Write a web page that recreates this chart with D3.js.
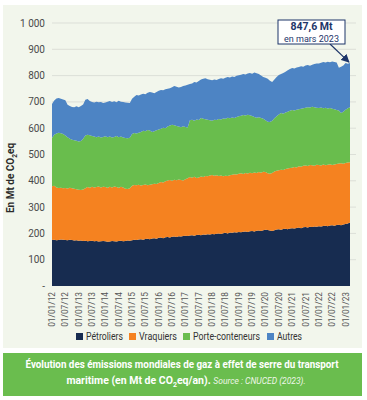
<!DOCTYPE html>
<html><head><meta charset="utf-8">
<script src="https://cdn.jsdelivr.net/npm/d3@7"></script>
<style>
html,body{margin:0;padding:0;background:#fff;}
svg{display:block;font-family:Roboto,"Noto Sans",sans-serif;}
</style></head>
<body>
<svg id="c" width="367" height="400"></svg>
<script>
// Monthly data, Jan 2012 -> Mar 2023 (Mt CO2eq/an)
const petroliers = [
175,176,174,175,177,176,175,174,176,175,173,174,
172,173,171,172,170,171,172,170,171,169,170,171,
170,168,169,171,170,169,171,172,170,171,173,172,
174,176,175,177,178,176,179,180,178,181,182,180,
183,184,182,185,186,184,187,188,186,189,188,190,
191,190,192,193,191,194,195,193,196,195,197,196,
198,197,199,200,198,201,202,200,203,202,204,203,
205,204,206,207,205,208,209,207,210,211,209,212,
214,213,211,209,212,215,216,214,217,218,216,219,
220,219,221,222,220,223,224,222,225,224,226,225,
227,226,228,229,227,230,231,229,232,233,231,234,
236,238,241];
const vraquiers = [
204,205,201,198,197,196,198,197,198,197,197,194,
194,192,196,200,206,203,205,205,205,209,205,206,
206,206,208,204,208,207,203,205,205,199,196,200,
207,208,208,208,204,208,207,203,207,206,207,208,
209,211,212,213,215,219,213,216,216,216,215,211,
215,220,222,219,224,217,218,223,218,223,220,224,
224,222,222,218,222,216,217,218,218,221,221,221,
222,225,220,223,223,223,220,225,220,222,222,222,
219,216,216,221,223,223,224,228,224,227,231,230,
230,233,230,233,233,234,234,234,235,235,231,236,
233,232,234,230,234,233,229,233,232,233,236,231,
232,232,230];
const porteConteneurs = [
184,194,205,210,207,206,199,195,186,184,184,184,
183,186,193,200,199,199,193,193,190,190,190,190,
193,192,191,190,189,194,192,191,190,193,193,192,
197,198,197,198,204,206,202,210,206,199,199,204,
203,203,208,202,205,207,213,207,206,201,201,206,
199,193,216,220,213,222,218,223,222,216,215,210,
206,213,210,217,213,220,217,222,217,218,214,219,
218,218,224,218,223,218,217,211,210,209,208,202,
197,196,197,198,203,207,212,216,214,215,216,217,
219,215,219,217,221,219,220,224,219,223,223,217,
217,221,214,219,214,214,214,210,205,201,191,198,
202,206,209];
const autres = [
129,130,133,132,131,131,134,123,124,125,126,131,
131,133,130,136,136,130,130,130,135,131,135,129,
129,135,135,135,135,129,138,133,135,135,135,132,
134,138,146,141,142,141,141,142,147,150,145,146,
147,147,142,148,144,142,143,149,150,149,153,153,
157,162,138,138,148,141,148,146,152,156,154,154,
154,153,152,152,157,151,156,155,155,156,156,156,
156,156,156,156,157,161,161,169,169,164,161,159,
162,163,156,148,147,150,150,148,155,155,157,159,
160,160,161,161,162,158,160,160,158,159,164,168,
169,170,176,172,178,174,180,180,181,163,176,175,
178,169,167.6];
const seriesNames = ["Pétroliers","Vraquiers","Porte-conteneurs","Autres"];
const seriesColors = ["#172c50","#f58220","#69bd4d","#4d84c4"];
const yTicks = [0,100,200,300,400,500,600,700,800,900,1000];
const yTickLabels = ["-","100","200","300","400","500","600","700","800","900","1 000"];
const xTickIndex = [0,6,12,18,24,30,36,42,48,54,60,66,72,78,84,90,96,102,108,114,120,126,132];
const xTickLabels = ["01/01/12","01/07/12","01/01/13","01/07/13","01/01/14","01/07/14","01/01/15","01/07/15","01/01/16","01/07/16","01/01/17","01/07/17","01/01/18","01/07/18","01/01/19","01/07/19","01/01/20","01/07/20","01/01/21","01/07/21","01/01/22","01/07/22","01/01/23"];

const svg = d3.select("#c");
// panel backgrounds
svg.append("rect").attr("x",3).attr("y",5).attr("width",359).attr("height",343).attr("fill","#f2f6ec");
svg.append("rect").attr("x",3).attr("y",353).attr("width",359).attr("height",43).attr("fill","#6abd4e");

const n = petroliers.length;
const rows = d3.range(n).map(i => ({i, "Pétroliers":petroliers[i], "Vraquiers":vraquiers[i], "Porte-conteneurs":porteConteneurs[i], "Autres":autres[i]}));
const x = d3.scaleLinear().domain([0, n-1]).range([52, 350]);
const y = d3.scaleLinear().domain([0, 1000]).range([286, 23]);

// gridlines
svg.append("g").selectAll("line").data(yTicks.slice(1)).join("line")
  .attr("x1",52).attr("x2",356).attr("y1",d=>y(d)).attr("y2",d=>y(d))
  .attr("stroke","#dcdfd8").attr("stroke-width",1);

// y labels
svg.append("g").selectAll("text").data(yTicks).join("text")
  .attr("x",45).attr("y",d=>y(d)).attr("dy","0.35em").attr("text-anchor","end")
  .attr("font-size",10).attr("fill","#4a4a4a").text((d,k)=>yTickLabels[k]);

// stacked area
const stack = d3.stack().keys(seriesNames);
const layers = stack(rows);
const area = d3.area().x(d=>x(d.data.i)).y0(d=>y(d[0])).y1(d=>y(d[1])).curve(d3.curveLinear);
svg.append("g").selectAll("path").data(layers).join("path")
  .attr("d",area).attr("fill",(d,k)=>seriesColors[k]);

// x labels
svg.append("g").selectAll("text").data(xTickIndex).join("text")
  .attr("transform",d=>`translate(${x(d)+3},292) rotate(-90)`)
  .attr("text-anchor","end").attr("font-size",8.3).attr("fill","#555")
  .text((d,k)=>xTickLabels[k]);

// y title
const yt = svg.append("text").attr("transform","translate(14,178) rotate(-90)")
  .attr("text-anchor","middle").attr("font-size",10).attr("font-weight","bold").attr("fill","#2b2b2b");
yt.append("tspan").text("En Mt de CO");
yt.append("tspan").attr("font-size",6.5).attr("dy",2.5).text("2");
yt.append("tspan").attr("dy",-2.5).text("eq");

// legend
const legX = [76,129,183,267];
const legW = [37,38,67,25];
const leg = svg.append("g").selectAll("g").data(seriesNames).join("g")
  .attr("transform",(d,k)=>`translate(${legX[k]},333)`);
leg.append("rect").attr("width",7).attr("height",7).attr("fill",(d,k)=>seriesColors[k]);
leg.append("text").attr("x",10).attr("y",3.5).attr("dy","0.35em").attr("font-size",10).attr("fill","#333")
  .attr("textLength",(d,k)=>legW[k]).attr("lengthAdjust","spacingAndGlyphs").text(d=>d);

// annotation
const last = n-1;
const total = petroliers[last]+vraquiers[last]+porteConteneurs[last]+autres[last];
svg.append("defs").append("marker").attr("id","ah").attr("viewBox","0 0 10 10").attr("refX",9).attr("refY",5)
  .attr("markerWidth",7).attr("markerHeight",7).attr("orient","auto")
  .append("path").attr("d","M0,0L10,5L0,10z").attr("fill","#1d3569");
svg.append("line").attr("x1",330).attr("y1",44).attr("x2",x(last)-1).attr("y2",y(total)-1)
  .attr("stroke","#1d3569").attr("stroke-width",1.2).attr("marker-end","url(#ah)");
svg.append("rect").attr("x",278).attr("y",20).attr("width",67).attr("height",24)
  .attr("fill","#fff").attr("stroke","#1d3569").attr("stroke-width",1);
svg.append("text").attr("x",311.5).attr("y",30).attr("text-anchor","middle").attr("font-size",10.5)
  .attr("font-weight","bold").attr("fill","#1d3569").text(d3.format(".1f")(total).replace(".",",")+" Mt");
svg.append("text").attr("x",311.5).attr("y",41.5).attr("text-anchor","middle").attr("font-size",9)
  .attr("fill","#1d3569").text("en mars 2023");

// caption
svg.append("text").attr("x",182).attr("y",368).attr("text-anchor","middle").attr("font-size",10.5)
  .attr("font-weight","bold").attr("fill","#fff").attr("textLength",313).attr("lengthAdjust","spacingAndGlyphs")
  .text("Évolution des émissions mondiales de gaz à effet de serre du transport");
const c2 = svg.append("text").attr("x",186).attr("y",384).attr("text-anchor","middle").attr("font-size",10.5)
  .attr("font-weight","bold").attr("fill","#fff");
c2.append("tspan").text("maritime (en Mt de CO");
c2.append("tspan").attr("font-size",7).attr("dy",2.5).text("2");
c2.append("tspan").attr("dy",-2.5).text("eq/an). ");
c2.append("tspan").attr("font-size",8.5).attr("font-style","italic").attr("font-weight","normal").attr("fill","#eef6e8").text("Source : CNUCED (2023).");
</script>
</body></html>
